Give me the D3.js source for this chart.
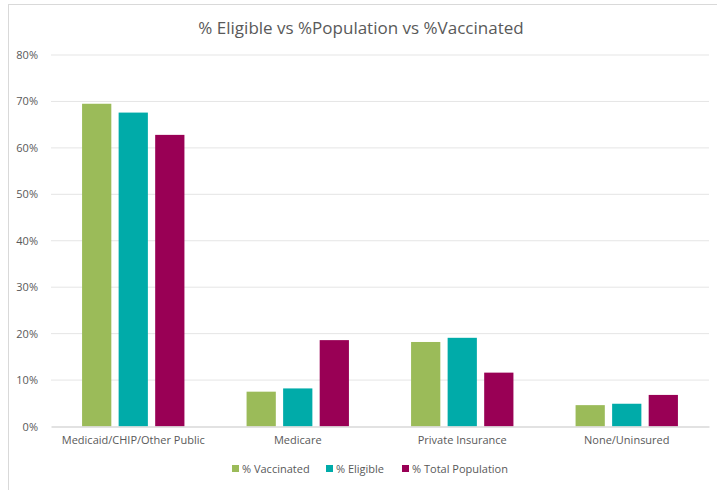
<!DOCTYPE html>
<html><head><meta charset="utf-8">
<script src="https://cdn.jsdelivr.net/npm/d3@7"></script>
<style>body{margin:0;background:#fff;} text{font-family:"Open Sans","Liberation Sans",sans-serif;}</style>
</head><body>
<svg id="c" width="717" height="490"></svg>
<script>
const categories = ["Medicaid/CHIP/Other Public","Medicare","Private Insurance","None/Uninsured"];
const seriesNames = ["% Vaccinated","% Eligible","% Total Population"];
const vaccinated = [69.5, 7.5, 18.2, 4.6];
const eligible = [67.6, 8.2, 19.1, 4.9];
const totalPopulation = [62.8, 18.6, 11.6, 6.8];
const colors = ["#9BBB59","#00ABA9","#990055"];
const yTicks = [0,10,20,30,40,50,60,70,80];

const series = [vaccinated, eligible, totalPopulation];
const svg = d3.select("#c");
svg.append("rect").attr("x",8.5).attr("y",4.5).attr("width",720).attr("height",500).attr("fill","#fff").attr("stroke","#d9d9d9");

const x0 = d3.scaleBand().domain(categories).range([51,709]).paddingInner(0).paddingOuter(0);
const x1 = d3.scaleBand().domain(seriesNames).range([0,x0.bandwidth()]).paddingInner(0.2).paddingOuter(0.85);
const y = d3.scaleLinear().domain([0,80]).range([426.5,55]);

svg.append("text").attr("x",361).attr("y",34).attr("text-anchor","middle").attr("font-size",17).attr("fill","#595959").text("% Eligible vs %Population vs %Vaccinated");

const grid = svg.append("g");
yTicks.forEach(t=>{
  if(t>0) grid.append("line").attr("x1",51).attr("x2",709).attr("y1",y(t)).attr("y2",y(t)).attr("stroke","#e5e5e5").attr("stroke-width",1);
});
const yAxis = d3.axisLeft(y).tickValues(yTicks).tickFormat(d=>d+"%").tickSize(0).tickPadding(13);
const ga = svg.append("g").attr("transform","translate(51,0)").call(yAxis);
ga.select(".domain").remove();
ga.selectAll("text").attr("font-size",11).attr("fill","#595959").style("font-family","'Open Sans','Liberation Sans',sans-serif");

const groups = svg.append("g").selectAll("g").data(categories).join("g").attr("transform",d=>`translate(${x0(d)},0)`);
groups.selectAll("rect").data((d,i)=>seriesNames.map((s,j)=>({s, v:series[j][i], j}))).join("rect")
  .attr("x",d=>x1(d.s)).attr("width",x1.bandwidth())
  .attr("y",d=>y(d.v)).attr("height",d=>y(0)-y(d.v)).attr("fill",d=>colors[d.j]);

const xAxis = d3.axisBottom(x0).tickSize(0).tickPadding(10);
const gx = svg.append("g").attr("transform",`translate(0,${y(0)})`).call(xAxis);
gx.select(".domain").attr("stroke","#d9d9d9").attr("stroke-width",1.5);
gx.selectAll("text").attr("font-size",11).attr("fill","#595959").style("font-family","'Open Sans','Liberation Sans',sans-serif");

const legX = [232, 326, 402];
const leg = svg.append("g");
seriesNames.forEach((s,i)=>{
  leg.append("rect").attr("x",legX[i]).attr("y",465).attr("width",7).attr("height",7).attr("fill",colors[i]);
  leg.append("text").attr("x",legX[i]+10).attr("y",472.5).attr("font-size",11).attr("fill","#595959").text(s);
});
</script>
</body></html>
